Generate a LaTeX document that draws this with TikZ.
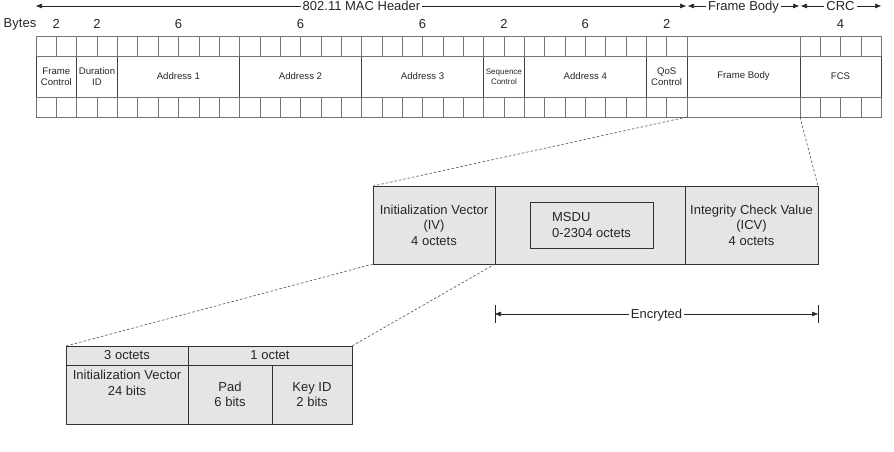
\documentclass[tikz,border=0pt]{standalone}
\usepackage{fontspec}
\setmainfont{Liberation Sans}
\usetikzlibrary{arrows.meta,positioning,calc}

\newcommand{\bigsz}{\fontsize{13}{15.5}\selectfont}
\newcommand{\fldsz}{\fontsize{9.6}{11}\selectfont}
\newcommand{\seqsz}{\fontsize{8}{10}\selectfont}

\begin{document}
\begin{tikzpicture}[x=1pt, y=-1pt,
    font=\fldsz, text=black!85,
    field/.style={draw=black!75, line width=0.7pt, minimum height=41,
                  inner sep=1pt, outer sep=0pt, align=center},
    cellline/.style={draw=black!55, line width=0.5pt},
    wep/.style={draw=black!80, line width=0.7pt, fill=black!10, outer sep=0pt,
                minimum height=78, inner sep=2pt, align=center, font=\bigsz},
    dimarrow/.style={{Triangle[length=6pt,width=4.5pt]}-{Triangle[length=6pt,width=4.5pt]},
                     line width=0.6pt, draw=black!85},
    dimlbl/.style={fill=white, inner sep=2pt, font=\bigsz,
                   text height=9.4pt, text depth=0pt},
    zoomline/.style={dash pattern=on 2.5pt off 2pt, draw=black!70, line width=0.6pt},
    bytenum/.style={font=\bigsz, inner sep=1pt},
  ]
  \useasboundingbox (0,0) rectangle (894,452);

  % MAC frame fields
  \node[field, minimum width=40.69, anchor=north west] (fc) at (36,56) {Frame\\Control};
  \node[field, minimum width=40.69, right=0pt of fc] (dur) {Duration\\ID};
  \node[field, minimum width=122.06, right=0pt of dur] (a1) {Address 1};
  \node[field, minimum width=122.06, right=0pt of a1] (a2) {Address 2};
  \node[field, minimum width=122.06, right=0pt of a2] (a3) {Address 3};
  \node[field, minimum width=40.69, right=0pt of a3, font=\seqsz] (seq) {Sequence\\Control};
  \node[field, minimum width=122.06, right=0pt of seq] (a4) {Address 4};
  \node[field, minimum width=40.69, right=0pt of a4] (qos) {QoS\\Control};
  \node[field, minimum width=113, right=0pt of qos] (fbody) {Frame Body};
  \node[field, minimum width=81, right=0pt of fbody] (fcs) {FCS};

  % byte cells above and below
  \draw[cellline] ($(fc.north west)+(0,-20)$) rectangle (fcs.north east);
  \draw[cellline] (fc.south west) rectangle ($(fcs.south east)+(0,20)$);
  \foreach \i in {1,...,32} {
    \draw[cellline] (36+\i*20.344,36) -- (36+\i*20.344,56);
    \draw[cellline] (36+\i*20.344,97) -- (36+\i*20.344,117);
  }
  \foreach \i in {0,...,3} {
    \draw[cellline] (800+\i*20.25,36) -- (800+\i*20.25,56);
    \draw[cellline] (800+\i*20.25,97) -- (800+\i*20.25,117);
  }

  % byte counts
  \node[bytenum] (bytes) at (20,24) {Bytes};
  \foreach \f/\n in {fc/2,dur/2,a1/6,a2/6,a3/6,seq/2,a4/6,qos/2,fcs/4}
    \node[bytenum] (n\f) at (\f.north |- 0,24) {\n};

  % section arrows
  \draw[dimarrow, shorten >=1pt] (fc.north west |- 0,6) --
    node[dimlbl] (machdr) {802.11 MAC Header} (qos.north east |- 0,6);
  \draw[dimarrow, shorten <=1pt, shorten >=1pt] (fbody.north west |- 0,6) --
    node[dimlbl] (fbhdr) {Frame Body} (fbody.north east |- 0,6);
  \draw[dimarrow, shorten <=1pt] (fcs.north west |- 0,6) --
    node[dimlbl] (crchdr) {CRC} (fcs.north east |- 0,6);

  % WEP frame body
  \node[wep, minimum width=122, anchor=north west] (iv) at (373,186)
    {Initialization Vector\\(IV)\\4 octets};
  \node[wep, minimum width=190, right=0pt of iv] (body) {};
  \node[wep, minimum width=133, right=0pt of body] (icv)
    {Integrity Check Value\\(ICV)\\4 octets};
  \node[wep, minimum width=123, minimum height=46, align=left] (msdu)
    at ($(body.center)+(1.5,0)$) {MSDU\\0-2304 octets};

  % zoom lines
  \draw[zoomline] ($(fbody.south west)+(0,20)$) -- (iv.north west);
  \draw[zoomline] ($(fbody.south east)+(0,20)$) -- (icv.north east);

  % encrypted span
  \coordinate (encL) at ($(body.south west)+(0,50)$);
  \coordinate (encR) at ($(icv.south east)+(0,50)$);
  \draw[line width=0.7pt, black!85] ($(encL)+(0,-9)$) -- ($(encL)+(0,9)$);
  \draw[line width=0.7pt, black!85] ($(encR)+(0,-9)$) -- ($(encR)+(0,9)$);
  \draw[dimarrow] (encL) -- node[dimlbl] (enc) {Encryted} (encR);

  % IV detail
  \node[wep, minimum width=122, minimum height=19, anchor=north west] (oct3) at (66,346) {3 octets};
  \node[wep, minimum width=164, minimum height=19, right=0pt of oct3] (oct1) {1 octet};
  \node[wep, minimum width=122, minimum height=59, below=0pt of oct3] (ivcell) {};
  \node[font=\bigsz, align=center, anchor=north, inner sep=2pt, yshift=-3pt] (ivtxt)
    at (ivcell.north) {Initialization Vector\\24 bits};
  \node[wep, minimum width=84, minimum height=59, anchor=north west] (pad) at (oct1.south west)
    {Pad\\6 bits};
  \node[wep, minimum width=80, minimum height=59, right=0pt of pad] (keyid) {Key ID\\2 bits};

  \draw[zoomline] (iv.south west) -- (oct3.north west);
  \draw[zoomline] (iv.south east) -- (oct1.north east);

\end{tikzpicture}
\end{document}
